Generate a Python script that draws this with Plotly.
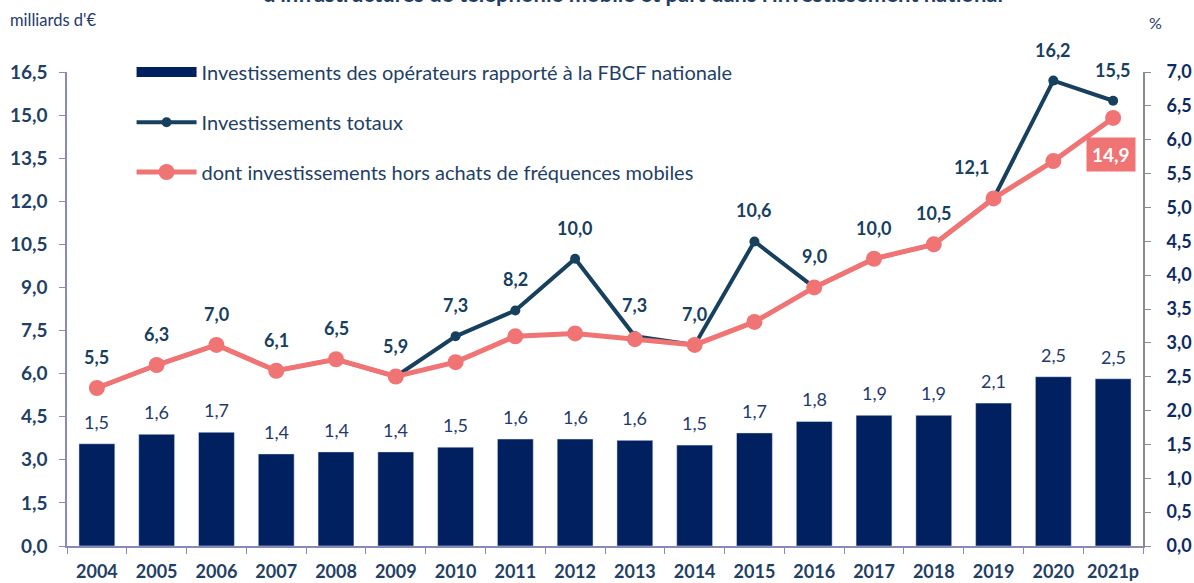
import plotly.graph_objects as go

years = ["2004", "2005", "2006", "2007", "2008", "2009", "2010", "2011", "2012",
         "2013", "2014", "2015", "2016", "2017", "2018", "2019", "2020", "2021p"]
share_fbcf = [1.51, 1.65, 1.68, 1.36, 1.39, 1.39, 1.46, 1.58, 1.58,
              1.56, 1.49, 1.67, 1.84, 1.93, 1.93, 2.11, 2.50, 2.47]
invest_total = [5.5, 6.3, 7.0, 6.1, 6.5, 5.9, 7.3, 8.2, 10.0,
                7.3, 7.0, 10.6, 9.0, 10.0, 10.5, 12.1, 16.2, 15.5]
invest_hors_freq = [5.5, 6.3, 7.0, 6.1, 6.5, 5.9, 6.4, 7.3, 7.4,
                    7.2, 7.0, 7.8, 9.0, 10.0, 10.5, 12.1, 13.4, 14.9]
left_ticks = [0, 1.5, 3, 4.5, 6, 7.5, 9, 10.5, 12, 13.5, 15, 16.5]
right_ticks = [0, 0.5, 1, 1.5, 2, 2.5, 3, 3.5, 4, 4.5, 5, 5.5, 6, 6.5, 7]

NAVY = "#002060"
DARK = "#17405f"
PINK = "#f07474"
TXT = "#1f3f66"
FONT = "Lato"


def fr(v):
    return f"{v:.1f}".replace(".", ",")


fig = go.Figure()

fig.add_trace(go.Bar(x=years, y=share_fbcf, marker_color=NAVY, width=0.6,
                     yaxis="y", showlegend=False, hoverinfo="x+y"))
fig.add_trace(go.Scatter(x=years, y=invest_total, mode="lines+markers", yaxis="y2",
                         line=dict(color=DARK, width=4), marker=dict(size=10, color=DARK),
                         name="Investissements totaux", legend="legend2"))
fig.add_trace(go.Scatter(x=years, y=invest_hors_freq, mode="lines+markers", yaxis="y2",
                         line=dict(color=PINK, width=5), marker=dict(size=16, color=PINK),
                         name="dont investissements hors achats de fréquences mobiles",
                         legend="legend3"))
# legend proxy for the bar series (wide rectangle symbol), no visible data
fig.add_trace(go.Scatter(x=[years[0]], y=[None], mode="lines", yaxis="y2",
                         line=dict(color=NAVY, width=11), hoverinfo="skip",
                         name="Investissements des opérateurs rapporté à la FBCF nationale",
                         legend="legend"))

annotations = []
for i, v in enumerate(invest_total):
    annotations.append(dict(x=i, y=v, xref="x", yref="y2", text=fr(v), showarrow=False,
                            yshift=31, xshift=(-22 if years[i] == "2019" else 0),
                            font=dict(family=FONT, size=18, color=DARK, weight="bold")))
for i, v in enumerate(share_fbcf):
    annotations.append(dict(x=i, y=v, xref="x", yref="y", text=fr(v), showarrow=False,
                            yshift=22, font=dict(family=FONT, size=18, color="#1f3a6e")))
last = len(years) - 1
annotations.append(dict(x=last, y=invest_hors_freq[last], xref="x", yref="y2",
                        text=fr(invest_hors_freq[last]), showarrow=False, yshift=-37, xshift=-2,
                        bgcolor=PINK, borderpad=5,
                        font=dict(family=FONT, size=19, color="white", weight="bold")))
annotations.append(dict(x=0.526, y=1, xref="paper", yref="paper", yanchor="bottom",
                        yshift=63, showarrow=False,
                        text="d'infrastructures de téléphonie mobile et part dans l'investissement national",
                        font=dict(family=FONT, size=22, color=TXT, weight="bold")))
annotations.append(dict(x=-0.0545, y=1, xref="paper", yref="paper", xanchor="left",
                        yanchor="middle", yshift=52, showarrow=False, text="milliards d'€",
                        font=dict(family=FONT, size=16.5, color="#1f3a6e")))
annotations.append(dict(x=1.004, y=1, xref="paper", yref="paper", xanchor="left",
                        yanchor="middle", yshift=50, showarrow=False, text="%",
                        font=dict(family=FONT, size=16, color="#1f3a6e")))

leg_common = dict(xanchor="left", yanchor="middle", bgcolor="rgba(0,0,0,0)",
                  font=dict(family=FONT, size=20, color=TXT), itemwidth=60)

fig.update_layout(
    width=1194, height=583,
    margin=dict(l=67, r=51, t=72, b=37, autoexpand=False),
    paper_bgcolor="white", plot_bgcolor="white",
    separators=", ",
    annotations=annotations,
    legend=dict(x=0.06, y=1.0, **leg_common),
    legend2=dict(x=0.06, y=0.894, **leg_common),
    legend3=dict(x=0.06, y=0.789, **leg_common),
    xaxis=dict(type="category", categoryorder="array", categoryarray=years,
               range=[-0.5, len(years) - 0.5], automargin=False,
               showline=True, linecolor="#8a8ab8", linewidth=1.5,
               ticks="outside", tickson="boundaries", ticklen=6, tickcolor="#8a8ab8",
               tickangle=0, ticklabelstandoff=9,
               tickfont=dict(family=FONT, size=18, color=TXT, weight="bold"),
               showgrid=False),
    yaxis=dict(side="right", range=[0, 7], tickvals=right_ticks, tickformat=".1f",
               automargin=False,
               showline=True, linecolor="#8c8c8c", linewidth=2, ticks="outside",
               ticklen=6, tickcolor="#8c8c8c", showgrid=False, zeroline=False,
               ticklabelstandoff=12,
               tickfont=dict(family=FONT, size=18, color="#0e2a62", weight="bold")),
    yaxis2=dict(side="left", overlaying="y", range=[0, 16.5], tickvals=left_ticks,
                tickformat=".1f", automargin=False,
                showline=True, linecolor="#8a8ab8", linewidth=1.5,
                ticks="outside", ticklen=6, tickcolor="#8a8ab8", showgrid=False,
                zeroline=False, ticklabelstandoff=8,
                tickfont=dict(family=FONT, size=19, color=TXT, weight="bold")),
)

fig.write_html("out.html", config={"displayModeBar": False},
               post_script="document.body.style.margin='0px';"
                           "document.body.style.overflow='hidden';")
